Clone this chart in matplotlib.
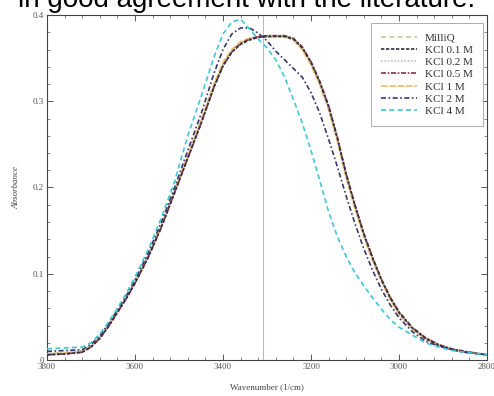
import matplotlib
matplotlib.use('Agg')
import matplotlib.pyplot as plt
from matplotlib.ticker import MultipleLocator, FuncFormatter

# ── データ ──────────────────────────────────────────────────────
wavenumber = [3800, 3760, 3720, 3700, 3680, 3660, 3640, 3620, 3600, 3570,
              3540, 3510, 3480, 3450, 3420, 3400, 3380, 3360, 3340, 3320,
              3300, 3280, 3260, 3240, 3220, 3200, 3180, 3160, 3140, 3120,
              3100, 3080, 3060, 3040, 3020, 3000, 2970, 2940, 2910, 2880,
              2850, 2800]

milliq = [0.007, 0.008, 0.010, 0.016, 0.026, 0.040, 0.056, 0.072, 0.090, 0.120,
          0.155, 0.195, 0.235, 0.275, 0.318, 0.342, 0.358, 0.367, 0.372, 0.374,
          0.375, 0.376, 0.376, 0.373, 0.363, 0.346, 0.323, 0.295, 0.258, 0.216,
          0.180, 0.147, 0.119, 0.094, 0.073, 0.056, 0.038, 0.026, 0.018, 0.013,
          0.010, 0.006]
kcl_01 = [0.006, 0.007, 0.009, 0.015, 0.025, 0.039, 0.055, 0.071, 0.089, 0.119,
          0.154, 0.194, 0.234, 0.274, 0.317, 0.341, 0.357, 0.366, 0.371, 0.374,
          0.375, 0.375, 0.375, 0.372, 0.362, 0.345, 0.322, 0.294, 0.257, 0.215,
          0.179, 0.146, 0.118, 0.093, 0.072, 0.055, 0.037, 0.025, 0.017, 0.012,
          0.009, 0.006]
kcl_02 = [0.008, 0.009, 0.011, 0.017, 0.027, 0.041, 0.057, 0.073, 0.091, 0.121,
          0.156, 0.196, 0.236, 0.276, 0.319, 0.343, 0.359, 0.368, 0.373, 0.375,
          0.376, 0.376, 0.376, 0.372, 0.361, 0.344, 0.321, 0.292, 0.255, 0.213,
          0.177, 0.145, 0.117, 0.092, 0.071, 0.054, 0.037, 0.025, 0.017, 0.013,
          0.010, 0.006]
kcl_05 = [0.006, 0.007, 0.009, 0.015, 0.025, 0.039, 0.055, 0.071, 0.089, 0.119,
          0.154, 0.194, 0.234, 0.274, 0.317, 0.341, 0.357, 0.367, 0.372, 0.375,
          0.376, 0.376, 0.376, 0.373, 0.363, 0.346, 0.323, 0.295, 0.258, 0.216,
          0.180, 0.147, 0.119, 0.094, 0.073, 0.056, 0.038, 0.026, 0.018, 0.013,
          0.010, 0.006]
kcl_1 = [0.007, 0.008, 0.010, 0.016, 0.026, 0.040, 0.056, 0.072, 0.090, 0.121,
         0.156, 0.196, 0.237, 0.278, 0.321, 0.345, 0.360, 0.369, 0.373, 0.375,
         0.375, 0.375, 0.375, 0.371, 0.360, 0.342, 0.319, 0.290, 0.253, 0.211,
         0.175, 0.143, 0.115, 0.091, 0.070, 0.053, 0.036, 0.025, 0.017, 0.012,
         0.009, 0.006]
kcl_2 = [0.010, 0.011, 0.012, 0.018, 0.028, 0.042, 0.058, 0.074, 0.093, 0.124,
         0.160, 0.200, 0.243, 0.285, 0.333, 0.360, 0.378, 0.385, 0.385, 0.379,
         0.370, 0.358, 0.348, 0.338, 0.328, 0.310, 0.286, 0.256, 0.224, 0.190,
         0.158, 0.129, 0.104, 0.082, 0.064, 0.049, 0.033, 0.022, 0.016, 0.012,
         0.009, 0.006]
kcl_4 = [0.013, 0.014, 0.015, 0.020, 0.030, 0.044, 0.060, 0.077, 0.096, 0.128,
         0.165, 0.207, 0.260, 0.305, 0.352, 0.378, 0.392, 0.395, 0.384, 0.372,
         0.362, 0.348, 0.328, 0.302, 0.275, 0.243, 0.208, 0.172, 0.143, 0.120,
         0.101, 0.086, 0.072, 0.059, 0.047, 0.038, 0.029, 0.020, 0.015, 0.011,
         0.009, 0.006]

labels = ['MilliQ', 'KCl 0.1 M', 'KCl 0.2 M', 'KCl 0.5 M', 'KCl 1 M', 'KCl 2 M', 'KCl 4 M']
series = [milliq, kcl_01, kcl_02, kcl_05, kcl_1, kcl_2, kcl_4]
colors = ['#c5cc9a', '#303048', '#b8c4c4', '#8a3040', '#e8bc6a', '#383868', '#3cc8d8']
dashes = [(3, 2), (2, 1), (1, 1), (3, 1, 1, 1), (4, 1), (3, 1.5, 1, 1.5), (3, 2)]
zorders = [2, 5, 2, 4, 3, 6, 7]
peak_line = 3310

# ── 描画 ──────────────────────────────────────────────────────────────
serif = ['Liberation Serif', 'DejaVu Serif']
fig = plt.figure(figsize=(4.94, 3.96), dpi=100)
ax = fig.add_axes([47 / 494, 36 / 396, 440 / 494, 345 / 396])

ax.axvline(peak_line, color='#bbbbbb', lw=0.8, zorder=1)
for y, lab, c, d, z in zip(series, labels, colors, dashes, zorders):
    ax.plot(wavenumber, y, color=c, lw=1.2, dashes=d, label=lab, zorder=z)

ax.set_xlim(3800, 2800)
ax.set_ylim(0, 0.4)
ax.xaxis.set_major_locator(MultipleLocator(200))
ax.xaxis.set_minor_locator(MultipleLocator(40))
ax.yaxis.set_major_locator(MultipleLocator(0.1))
ax.yaxis.set_minor_locator(MultipleLocator(0.02))
ax.yaxis.set_major_formatter(FuncFormatter(lambda v, _: '0' if abs(v) < 1e-9 else f'{v:.1f}'))
ax.tick_params(which='both', direction='in', top=True, right=True,
               colors='#555555', labelsize=6.5, pad=2)
ax.tick_params(which='major', length=4, width=0.7)
ax.tick_params(which='minor', length=2, width=0.5)
for lbl in ax.get_xticklabels() + ax.get_yticklabels():
    lbl.set_family(serif)
for sp in ax.spines.values():
    sp.set_color('#444444')
    sp.set_linewidth(0.8)

ax.set_xlabel('Wavenumber (1/cm)', family=serif, fontsize=6.5, color='#444444', labelpad=9)
ax.set_ylabel('Absorbance', family=serif, fontsize=6.5, color='#444444',
              style='italic', labelpad=9)

leg = ax.legend(loc='upper right', bbox_to_anchor=(0.991, 0.977), borderaxespad=0,
                prop={'family': serif, 'size': 8}, frameon=True, fancybox=False,
                handlelength=3.3, labelspacing=0.22, borderpad=0.9, handletextpad=0.7)
leg.set_zorder(10)
leg.get_frame().set_edgecolor('#999999')
leg.get_frame().set_linewidth(0.7)
for t in leg.get_texts():
    t.set_color('#333333')

# ページ本文の一部 (上端で切れている)
fig.text(18 / 494, 1 - 7 / 396, 'in good agreement with the literature.',
         family=['Liberation Sans', 'DejaVu Sans'], fontsize=20, va='baseline', ha='left')

fig.savefig('out.png', dpi=100)
